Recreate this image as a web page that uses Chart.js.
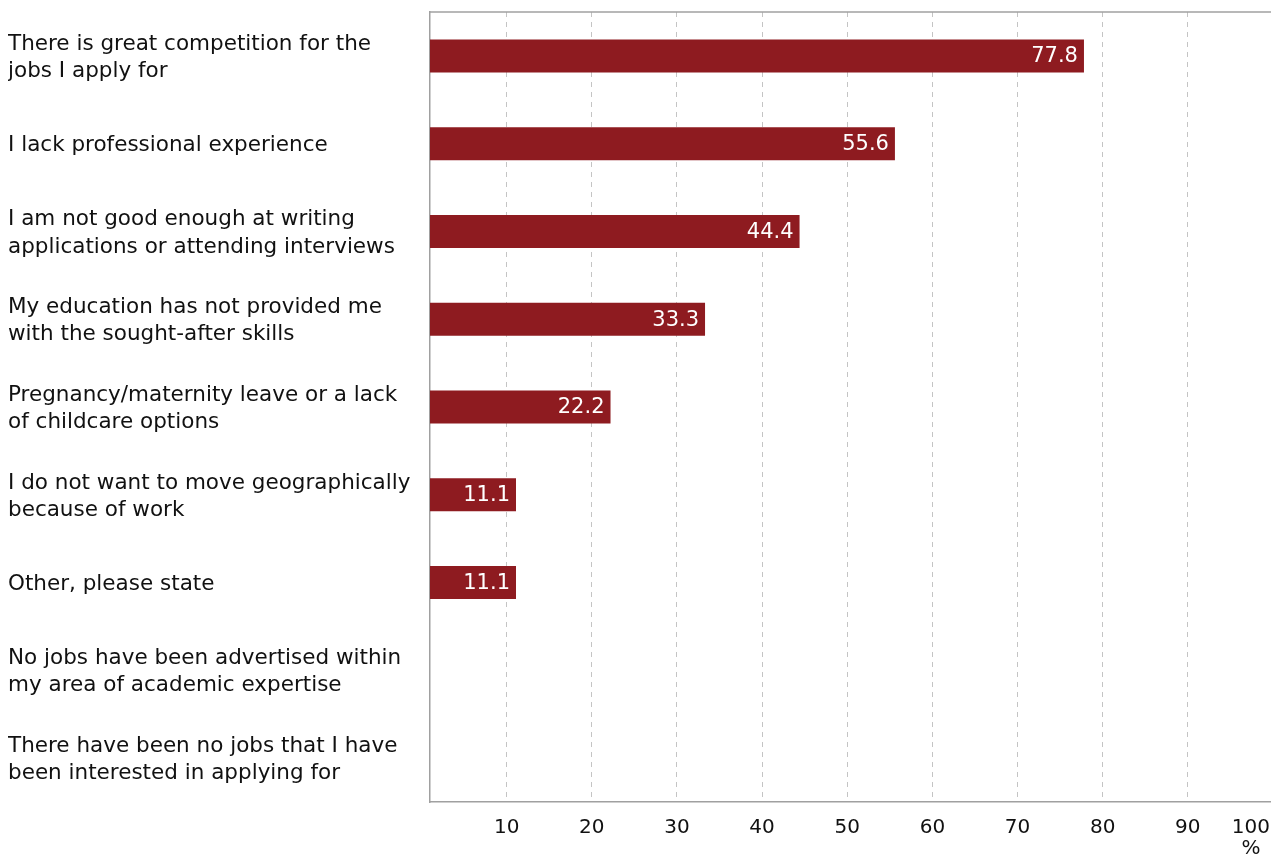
<!DOCTYPE html>
<html>
<head>
<meta charset="utf-8">
<script src="https://cdn.jsdelivr.net/npm/chart.js@4.4.1/dist/chart.umd.min.js"></script>
<style>
    html, body { margin: 0; padding: 0; background: #fff; overflow: hidden; }
    .chart-wrapper { position: relative; width: 1276px; height: 856px; }
</style>
</head>
<body>
<div class="chart-wrapper"><canvas id="chart"></canvas></div>
<script>
// survey answers, one entry per bar (each label split into its display lines)
const categories = [
    ['There is great competition for the', 'jobs I apply for'],
    ['I lack professional experience'],
    ['I am not good enough at writing', 'applications or attending interviews'],
    ['My education has not provided me', 'with the sought-after skills'],
    ['Pregnancy/maternity leave or a lack', 'of childcare options'],
    ['I do not want to move geographically', 'because of work'],
    ['Other, please state'],
    ['No jobs have been advertised within', 'my area of academic expertise'],
    ['There have been no jobs that I have', 'been interested in applying for']
];
const percentages = [77.8, 55.6, 44.4, 33.3, 22.2, 11.1, 11.1, 0, 0];
const tickValues = [10, 20, 30, 40, 50, 60, 70, 80, 90, 100];
const unitLabel = '%';

const FONT = '"DejaVu Sans", Verdana, sans-serif';
const BAR_COLOR = '#8e1b20';
const AXIS_COLOR = '#a0a0a0';
const TEXT_COLOR = '#111';

// white value text inside the right end of each bar
const valueLabels = {
    id: 'valueLabels',
    afterDatasetsDraw(chart) {
        const ctx = chart.ctx;
        const meta = chart.getDatasetMeta(0);
        ctx.save();
        ctx.font = '21px ' + FONT;
        ctx.fillStyle = '#fff';
        ctx.textAlign = 'right';
        ctx.textBaseline = 'middle';
        meta.data.forEach((bar, i) => {
            const v = percentages[i];
            if (!v) return;
            ctx.fillText(v.toFixed(1), bar.x - 6, bar.y + 1);
        });
        ctx.restore();
    }
};

// top frame line plus the x tick labels and unit (last label kept inside the page)
const frameAndTicks = {
    id: 'frameAndTicks',
    afterDraw(chart) {
        const ctx = chart.ctx;
        const area = chart.chartArea;
        const x = chart.scales.x;
        ctx.save();
        ctx.strokeStyle = AXIS_COLOR;
        ctx.lineWidth = 1.5;
        ctx.beginPath();
        ctx.moveTo(area.left - 0.75, area.top);
        ctx.lineTo(area.right, area.top);
        ctx.stroke();

        ctx.font = '20px ' + FONT;
        ctx.fillStyle = TEXT_COLOR;
        ctx.textAlign = 'center';
        ctx.textBaseline = 'middle';
        const pageRight = 1270;
        let lastX = 0;
        tickValues.forEach(v => {
            const label = String(v);
            const w = ctx.measureText(label).width;
            let px = x.getPixelForValue(v);
            if (px + w / 2 > pageRight) px = pageRight - w / 2;
            ctx.fillText(label, px, area.bottom + 26);
            lastX = px;
        });
        ctx.fillText(unitLabel, lastX, area.bottom + 47);
        ctx.restore();
    }
};

new Chart(document.getElementById('chart'), {
    type: 'bar',
    data: {
        labels: categories,
        datasets: [{
            data: percentages,
            backgroundColor: BAR_COLOR,
            borderWidth: 0,
            barPercentage: 0.376,
            categoryPercentage: 1
        }]
    },
    options: {
        indexAxis: 'y',
        responsive: true,
        maintainAspectRatio: false,
        animation: false,
        layout: { padding: { left: 8, top: 12, right: 3, bottom: 0 } },
        plugins: {
            legend: { display: false },
            tooltip: { enabled: false }
        },
        scales: {
            x: {
                min: 1,
                max: 100,
                afterBuildTicks(scale) {
                    scale.ticks = tickValues.map(v => ({ value: v }));
                },
                afterFit(scale) {
                    scale.height = 54;
                    scale.paddingLeft = 0;
                    scale.paddingRight = 0;
                },
                ticks: { display: false },
                grid: {
                    color: '#c4c4c4',
                    lineWidth: 1,
                    drawTicks: false
                },
                border: { color: AXIS_COLOR, width: 1.5, dash: [5, 5] }
            },
            y: {
                afterFit(scale) {
                    scale.width = 422;
                    // labels may overhang the plot; don't let them push it down
                    scale.paddingTop = 0;
                    scale.paddingBottom = 0;
                    // nudge the category text a couple of pixels lower
                    if (!scale._nudged) {
                        const draw = scale.drawLabels;
                        scale.drawLabels = function (area) {
                            this.ctx.save();
                            this.ctx.translate(0, 2);
                            draw.call(this, area);
                            this.ctx.restore();
                        };
                        scale._nudged = true;
                    }
                },
                grid: { display: false, drawTicks: false },
                border: { color: AXIS_COLOR, width: 1.5 },
                ticks: {
                    crossAlign: 'far',
                    color: TEXT_COLOR,
                    font: { family: FONT, size: 21.5, lineHeight: 1.26 }
                }
            }
        }
    },
    plugins: [valueLabels, frameAndTicks]
});
</script>
</body>
</html>
